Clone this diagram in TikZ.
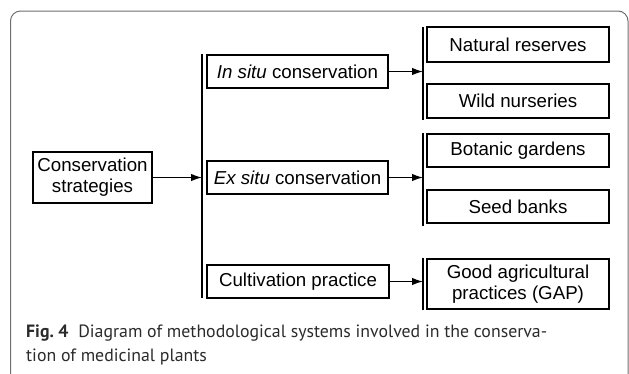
\documentclass[tikz,border=0pt]{standalone}
\usepackage{fontspec}
\setmainfont{Liberation Sans}
\newfontfamily\capfont{PT Sans}
\usetikzlibrary{arrows.meta}
\definecolor{framegray}{HTML}{6E6E6E}
\definecolor{captext}{HTML}{2B2B2B}
\tikzset{
  box/.style={draw=black, line width=1.4pt, inner sep=0pt, align=center,
    font=\fontsize{18.7}{21}\selectfont},
  bar/.style={draw=black, line width=2pt},
  arr/.style={draw=black, line width=1.4pt, -{Latex[length=11pt,width=7.5pt]}},
  captxt/.style={anchor=base west, inner sep=0pt, text=captext,
    font=\capfont\fontsize{17.8}{24}\selectfont},
}
\begin{document}
\begin{tikzpicture}[x=1pt,y=-1pt]
\useasboundingbox (0,0) rectangle (629,373);
\clip (0,0) rectangle (629,373);
\draw[framegray, line width=1pt, rounded corners=10pt] (10.5,11) rectangle (628,392);
% boxes
\node[box, minimum width=119pt, minimum height=51pt] (cs) at (92.5,177.5) {Conservation\\strategies};
\node[box, minimum width=181pt, minimum height=33pt] (ins) at (297.5,71.5) {\textit{In situ} conservation};
\node[box, minimum width=181pt, minimum height=33pt] (exs) at (297.5,177.5) {\textit{Ex situ} conservation};
\node[box, minimum width=182pt, minimum height=33pt] (cult) at (298,281.5) {Cultivation practice};
\node[box, minimum width=182pt, minimum height=35pt] (nat) at (518,44.5) {Natural reserves};
\node[box, minimum width=182pt, minimum height=34pt] (wild) at (518,101) {Wild nurseries};
\node[box, minimum width=182pt, minimum height=33pt] (bot) at (518,150.5) {Botanic gardens};
\node[box, minimum width=182pt, minimum height=33pt] (seed) at (518,206.5) {Seed banks};
\node[box, minimum width=182pt, minimum height=50pt] (gap) at (518,284) {Good agricultural\\practices (GAP)};
% bars
\coordinate (b0t) at (202,54);  \coordinate (b0b) at (202,298);
\coordinate (b1t) at (423,27);  \coordinate (b1b) at (423,120);
\coordinate (b2t) at (423,133); \coordinate (b2b) at (423,226);
\coordinate (b3t) at (423,258); \coordinate (b3b) at (423,310);
\draw[bar] (b0t) -- (b0b);
\draw[bar] (b1t) -- (b1b);
\draw[bar] (b2t) -- (b2b);
\draw[bar] (b3t) -- (b3b);
% arrows
\draw[arr] (cs.east) -- (cs.east -| b0t);
\draw[arr] (ins.east) -- (ins.east -| b1t);
\draw[arr] (exs.east) -- (exs.east -| b2t);
\draw[arr] (cult.east) -- (cult.east -| b3t);
% caption
\node[captxt] (cap1) at (26,337) {\textbf{Fig.~4}\hspace{0.55em}Diagram of methodological systems involved in the conserva-};
\node[captxt] (cap2) at (26,361) {tion of medicinal plants};
\end{tikzpicture}
\end{document}
